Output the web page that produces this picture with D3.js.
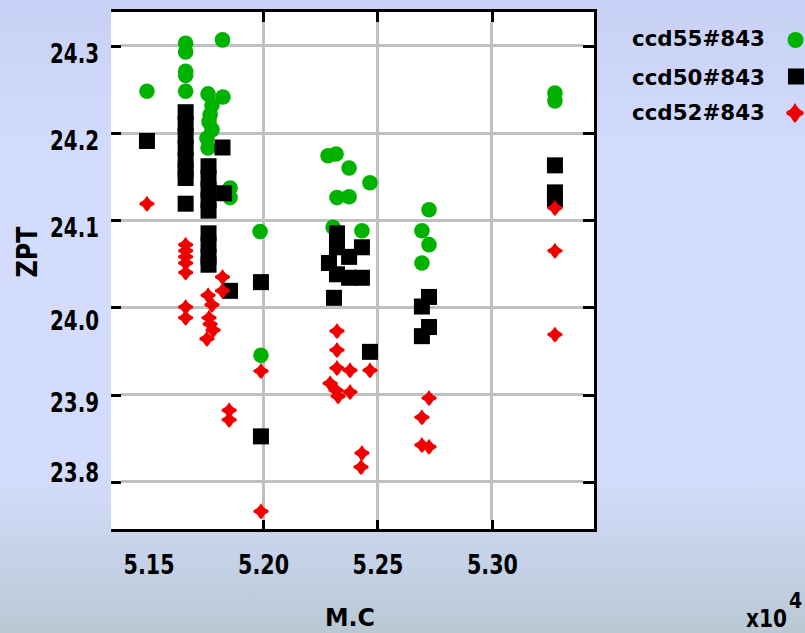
<!DOCTYPE html>
<html>
<head>
<meta charset="utf-8">
<script src="https://cdn.jsdelivr.net/npm/d3@7"></script>
<style>
  html, body { margin: 0; padding: 0; }
  body { width: 805px; height: 633px; overflow: hidden; }
  text { font-family: "DejaVu Sans Condensed", "DejaVu Sans", sans-serif; fill: #000; }
</style>
</head>
<body>
<script>
// ---------------- data ----------------
const yTickValues = [24.3, 24.2, 24.1, 24.0, 23.9, 23.8];
const yTickLabels = ["24.3", "24.2", "24.1", "24.0", "23.9", "23.8"];
const xLabelValues = [51500, 52000, 52500, 53000];
const xTickLabels = ["5.15", "5.20", "5.25", "5.30"];
const xGridValues = [52000, 52500, 53000];
const seriesNames = ["ccd55#843", "ccd50#843", "ccd52#843"];

const ccd55X = [51493, 51662, 51662, 51662, 51662, 51662, 51823,
  51760, 51825, 51777, 51769, 51764, 51777, 51755, 51760, 51856, 51856,
  51987, 51991,
  52284, 52319, 52376, 52467, 52323, 52376, 52306, 52432,
  52725, 52694, 52725, 52694,
  53275, 53275];
const ccd55Y = [24.248, 24.303, 24.293, 24.271, 24.266, 24.248, 24.307,
  24.245, 24.2415, 24.232, 24.221, 24.213, 24.204, 24.194, 24.183, 24.137, 24.126,
  24.087, 23.945,
  24.174, 24.176, 24.160, 24.143, 24.126, 24.127, 24.092, 24.088,
  24.112, 24.088, 24.072, 24.051,
  24.246, 24.237];

const ccd50X = [51493,
  51662, 51662, 51662, 51662, 51662, 51662, 51662, 51662,
  51762, 51762, 51762, 51762, 51762, 51762, 51762, 51762, 51762,
  51823, 51830, 51856,
  51991, 51991,
  52323, 52323, 52376, 52288, 52323, 52376, 52432, 52432, 52310, 52467,
  52725, 52694, 52725, 52694,
  53275, 53275, 53275];
const ccd50Y = [24.191,
  24.224, 24.2105, 24.197, 24.183, 24.169, 24.158, 24.1485, 24.119,
  24.162, 24.1485, 24.135, 24.123, 24.111, 24.085, 24.072, 24.058, 24.049,
  24.1835, 24.131, 24.019,
  24.029, 23.852,
  24.085, 24.069, 24.058, 24.051, 24.038, 24.034, 24.034, 24.069, 24.011, 23.949,
  24.012, 24.001, 23.9775, 23.967,
  24.163, 24.132, 24.124];

const ccd52X = [51493,
  51662, 51662, 51662, 51662, 51662, 51662, 51662,
  51760, 51777, 51764, 51769, 51782, 51755, 51823, 51823, 51852, 51852,
  51991, 51991,
  52323, 52323, 52323, 52380, 52467, 52293, 52319, 52328, 52380, 52432, 52428,
  52725, 52694, 52694, 52725,
  53275, 53275, 53275];
const ccd52Y = [24.119,
  24.072, 24.065, 24.058, 24.051, 24.040, 24.0005, 23.988,
  24.014, 24.003, 23.988, 23.981, 23.974, 23.964, 24.035, 24.019, 23.882, 23.871,
  23.927, 23.766,
  23.973, 23.951, 23.9305, 23.928, 23.928, 23.913, 23.905, 23.898, 23.903, 23.833, 23.817,
  23.896, 23.874, 23.842, 23.840,
  24.114, 24.065, 23.969];

// ---------------- layout / style ----------------
const W = 805, H = 633;
const L = 111, R = 595, T = 10.5, B = 530.5;
const GREEN = "#00b200", RED = "#f00000", GRID = "#c0c0c0";
const yLabelDy = [7, 6.7, 6.7, 12.3, 6.7, -10.7];

const svg = d3.select("body").append("svg").attr("width", W).attr("height", H);

const defs = svg.append("defs");
const grad = defs.append("linearGradient").attr("id", "bg").attr("x1", 0).attr("y1", 0).attr("x2", 0).attr("y2", 1);
[["0%", "#c8d1f5"], ["25%", "#d3dcfd"], ["75%", "#d3dcfc"], ["100%", "#bac8d4"]].forEach(s =>
  grad.append("stop").attr("offset", s[0]).attr("stop-color", s[1]));
svg.append("rect").attr("width", W).attr("height", H).attr("fill", "url(#bg)");

const x = d3.scaleLinear().domain([51336, 53450]).range([L, R]);
const y = d3.scaleLinear().domain([23.744, 24.3407]).range([B, T]);

// plot background
svg.append("rect").attr("x", L).attr("y", T).attr("width", R - L).attr("height", B - T).attr("fill", "#fff");

// grid
const grid = svg.append("g").attr("stroke", GRID).attr("stroke-width", 3).attr("shape-rendering", "crispEdges");
grid.selectAll("line.h").data(yTickValues).join("line").attr("class", "h")
  .attr("x1", L + 10).attr("x2", R - 12).attr("y1", d => y(d)).attr("y2", d => y(d));
grid.selectAll("line.v").data(xGridValues).join("line").attr("class", "v")
  .attr("x1", d => x(d)).attr("x2", d => x(d)).attr("y1", T + 11).attr("y2", B - 11);

// data
const redShape = "M0,-8L2,-5L4,-3L7.5,-1L7.5,1L4,3L2,6L0,8L-2,6L-4,3L-7.5,1L-7.5,-1L-4,-3L-2,-5Z";
const pts = (xs, ys) => xs.map((v, i) => [v, ys[i]]);

svg.append("g").selectAll("circle").data(pts(ccd55X, ccd55Y)).join("circle")
  .attr("cx", d => x(d[0])).attr("cy", d => y(d[1])).attr("r", 7.8).attr("fill", GREEN);
svg.append("g").selectAll("rect").data(pts(ccd50X, ccd50Y)).join("rect")
  .attr("x", d => x(d[0]) - 8).attr("y", d => y(d[1]) - 8).attr("width", 16).attr("height", 16).attr("fill", "#000");
svg.append("g").selectAll("path").data(pts(ccd52X, ccd52Y)).join("path")
  .attr("transform", d => `translate(${x(d[0])},${y(d[1])})`).attr("d", redShape).attr("fill", RED);

// axes ticks
function styleTicks(g) {
  g.select(".domain").remove();
  g.selectAll(".tick line").attr("stroke", "#000").attr("stroke-width", 3).attr("shape-rendering", "crispEdges");
  g.selectAll(".tick text").remove();
}
svg.append("g").attr("transform", `translate(${L},0)`).call(d3.axisLeft(y).tickValues(yTickValues).tickSize(-10)).call(styleTicks);
svg.append("g").attr("transform", `translate(${R},0)`).call(d3.axisRight(y).tickValues(yTickValues).tickSize(-12)).call(styleTicks);
svg.append("g").attr("transform", `translate(0,${B})`).call(d3.axisBottom(x).tickValues(xGridValues).tickSize(-11)).call(styleTicks);
svg.append("g").attr("transform", `translate(0,${T})`).call(d3.axisTop(x).tickValues(xGridValues).tickSize(-11)).call(styleTicks);

// frame
const frame = svg.append("g").attr("stroke", "#000").attr("stroke-width", 3).attr("shape-rendering", "crispEdges");
frame.append("line").attr("x1", L).attr("x2", R + 1.5).attr("y1", T).attr("y2", T);
frame.append("line").attr("x1", L).attr("x2", R + 1.5).attr("y1", B).attr("y2", B);
frame.append("line").attr("x1", R).attr("x2", R).attr("y1", T - 1.5).attr("y2", B + 1.5);

// tick labels
const yLab = svg.append("g").attr("transform", `translate(${L},0)`)
  .call(d3.axisLeft(y).tickValues(yTickValues).tickSize(0).tickPadding(12).tickFormat((d, i) => yTickLabels[i]));
yLab.select(".domain").remove();
yLab.selectAll(".tick text")
  .attr("font-size", 27).attr("font-weight", "bold").attr("font-family", "DejaVu Sans Condensed")
  .attr("dy", null).attr("y", (d, i) => yLabelDy[i] + 10)
  .attr("textLength", 49).attr("lengthAdjust", "spacingAndGlyphs");

const xLab = svg.append("g").attr("transform", `translate(0,${B})`)
  .call(d3.axisBottom(x).tickValues(xLabelValues).tickSize(0).tickPadding(0).tickFormat((d, i) => xTickLabels[i]));
xLab.select(".domain").remove();
xLab.selectAll(".tick text")
  .attr("font-size", 27).attr("font-weight", "bold").attr("font-family", "DejaVu Sans Condensed")
  .attr("dy", null).attr("y", 43)
  .attr("textLength", 51).attr("lengthAdjust", "spacingAndGlyphs");

// axis titles
svg.append("text").attr("transform", "translate(37,252) rotate(-90)")
  .attr("text-anchor", "middle").attr("font-size", 29).attr("font-weight", "bold")
  .attr("textLength", 51).attr("lengthAdjust", "spacingAndGlyphs").text("ZPT");
svg.append("text").attr("x", 350).attr("y", 626).attr("text-anchor", "middle")
  .attr("font-size", 25).attr("font-weight", "bold")
  .attr("textLength", 50).attr("lengthAdjust", "spacingAndGlyphs").text("M.C");
svg.append("text").attr("x", 746).attr("y", 627)
  .attr("font-size", 25).attr("font-weight", "bold")
  .attr("textLength", 41).attr("lengthAdjust", "spacingAndGlyphs").text("x10");
svg.append("text").attr("x", 789).attr("y", 608)
  .attr("font-size", 21).attr("font-weight", "bold").text("4");

// legend
const legY = [38, 76.5, 112];
const leg = svg.append("g");
seriesNames.forEach((name, i) => {
  leg.append("text").attr("x", 632).attr("y", legY[i] + 8)
    .attr("font-size", 22).attr("font-weight", "bold")
    .attr("textLength", 133).attr("lengthAdjust", "spacingAndGlyphs").text(name);
});
leg.append("circle").attr("cx", 795.5).attr("cy", legY[0] + 2).attr("r", 8).attr("fill", GREEN);
leg.append("rect").attr("x", 788).attr("y", legY[1] - 8).attr("width", 16).attr("height", 16).attr("fill", "#000");
leg.append("path").attr("transform", `translate(795,${legY[2] + 1}) scale(1.15,1.25)`).attr("d", redShape).attr("fill", RED);
</script>
</body>
</html>
